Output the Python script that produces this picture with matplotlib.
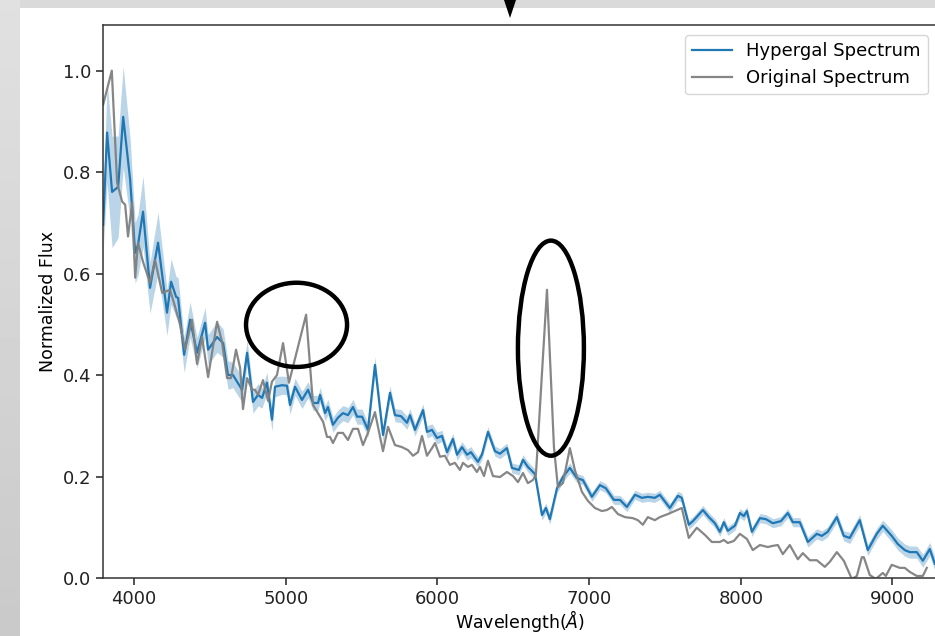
"""Hypergal vs original spectrum, with the emission lines the model misses circled."""
import matplotlib
matplotlib.use("Agg")
import matplotlib.pyplot as plt
import numpy as np
from matplotlib.patches import Ellipse, Polygon, Rectangle

# Hypergal reconstruction: wavelength (A), normalized flux, 1-sigma spread
hyp_wave = [3796, 3822, 3855, 3895, 3928, 3974, 4007, 4026, 4059, 4105,
            4158, 4217, 4244, 4277, 4290, 4330, 4369, 4415, 4468, 4488,
            4547, 4587, 4619, 4652, 4712, 4745, 4784, 4817, 4844, 4876,
            4909, 4929, 4975, 5008, 5028, 5061, 5107, 5147, 5180, 5213,
            5226, 5259, 5278, 5311, 5344, 5377, 5410, 5443, 5470, 5503,
            5542, 5588, 5641, 5687, 5720, 5760, 5799, 5819, 5852, 5905,
            5931, 5964, 5997, 6030, 6063, 6102, 6129, 6162, 6195, 6221,
            6247, 6267, 6293, 6333, 6379, 6412, 6458, 6491, 6537, 6564,
            6596, 6643, 6689, 6715, 6741, 6788, 6827, 6873, 6919, 6959,
            7018, 7071, 7110, 7163, 7203, 7249, 7302, 7348, 7387, 7433,
            7466, 7532, 7585, 7611, 7657, 7684, 7750, 7789, 7829, 7862,
            7888, 7914, 7961, 7994, 8020, 8040, 8073, 8126, 8165, 8211,
            8264, 8310, 8343, 8389, 8442, 8501, 8534, 8573, 8633, 8679,
            8718, 8784, 8837, 8896, 8936, 8995, 9035, 9081, 9114, 9160,
            9200, 9246, 9279]
hyp_flux = [0.696, 0.878, 0.761, 0.771, 0.909, 0.785, 0.641, 0.657, 0.722, 0.572,
            0.661, 0.523, 0.584, 0.554, 0.552, 0.440, 0.509, 0.444, 0.503, 0.450,
            0.475, 0.463, 0.400, 0.400, 0.371, 0.444, 0.347, 0.361, 0.355, 0.385,
            0.312, 0.377, 0.380, 0.379, 0.341, 0.377, 0.351, 0.371, 0.345, 0.345,
            0.361, 0.325, 0.337, 0.302, 0.316, 0.325, 0.321, 0.337, 0.318, 0.318,
            0.292, 0.420, 0.282, 0.365, 0.321, 0.319, 0.306, 0.321, 0.292, 0.331,
            0.288, 0.292, 0.276, 0.280, 0.248, 0.274, 0.243, 0.258, 0.243, 0.248,
            0.237, 0.229, 0.243, 0.288, 0.250, 0.245, 0.256, 0.217, 0.213, 0.233,
            0.219, 0.205, 0.124, 0.138, 0.116, 0.177, 0.199, 0.217, 0.197, 0.193,
            0.160, 0.183, 0.177, 0.154, 0.154, 0.140, 0.164, 0.158, 0.160, 0.158,
            0.164, 0.138, 0.162, 0.158, 0.105, 0.112, 0.134, 0.120, 0.108, 0.091,
            0.110, 0.093, 0.103, 0.128, 0.122, 0.132, 0.091, 0.118, 0.116, 0.108,
            0.112, 0.128, 0.110, 0.110, 0.071, 0.087, 0.083, 0.091, 0.120, 0.083,
            0.079, 0.114, 0.055, 0.087, 0.103, 0.083, 0.067, 0.055, 0.051, 0.051,
            0.034, 0.057, 0.028]
hyp_err = [0.050, 0.100, 0.110, 0.100, 0.100, 0.080, 0.060, 0.060, 0.070, 0.050,
           0.060, 0.045, 0.045, 0.040, 0.040, 0.035, 0.035, 0.030, 0.030, 0.030,
           0.030, 0.028, 0.028, 0.025, 0.025, 0.025, 0.022, 0.022, 0.020, 0.020,
           0.022, 0.020, 0.018, 0.018, 0.018, 0.017, 0.017, 0.016, 0.015, 0.015,
           0.015, 0.015, 0.015, 0.015, 0.015, 0.015, 0.015, 0.015, 0.015, 0.015,
           0.014, 0.016, 0.014, 0.014, 0.013, 0.013, 0.013, 0.013, 0.012, 0.012,
           0.012, 0.012, 0.012, 0.011, 0.011, 0.011, 0.011, 0.011, 0.011, 0.011,
           0.010, 0.010, 0.010, 0.010, 0.010, 0.010, 0.010, 0.010, 0.010, 0.010,
           0.010, 0.010, 0.010, 0.010, 0.010, 0.010, 0.010, 0.010, 0.009, 0.009,
           0.009, 0.009, 0.009, 0.009, 0.009, 0.009, 0.009, 0.009, 0.009, 0.009,
           0.009, 0.009, 0.009, 0.009, 0.009, 0.009, 0.009, 0.009, 0.009, 0.009,
           0.009, 0.009, 0.009, 0.009, 0.009, 0.009, 0.009, 0.009, 0.009, 0.009,
           0.009, 0.009, 0.009, 0.009, 0.010, 0.010, 0.010, 0.010, 0.010, 0.010,
           0.011, 0.011, 0.011, 0.011, 0.011, 0.012, 0.012, 0.012, 0.012, 0.012,
           0.013, 0.013, 0.013]

# Original (observed) spectrum
orig_wave = [3796, 3853, 3888, 3921, 3941, 3960, 3987, 4007, 4026, 4059,
             4105, 4138, 4185, 4237, 4270, 4303, 4336, 4382, 4415, 4448,
             4488, 4547, 4580, 4613, 4639, 4672, 4699, 4718, 4745, 4778,
             4797, 4817, 4850, 4883, 4909, 4942, 4982, 5021, 5134, 5180,
             5226, 5246, 5272, 5292, 5311, 5344, 5377, 5410, 5443, 5476,
             5509, 5542, 5588, 5641, 5674, 5720, 5766, 5806, 5839, 5872,
             5898, 5931, 5964, 5984, 6017, 6049, 6082, 6115, 6148, 6168,
             6201, 6227, 6260, 6280, 6307, 6333, 6366, 6412, 6458, 6498,
             6531, 6564, 6596, 6629, 6649, 6722, 6768, 6794, 6827, 6873,
             6906, 6952, 6992, 7038, 7084, 7117, 7150, 7190, 7236, 7288,
             7321, 7354, 7387, 7433, 7466, 7519, 7565, 7611, 7657, 7710,
             7763, 7809, 7862, 7888, 7914, 7954, 7994, 8040, 8079, 8126,
             8178, 8204, 8244, 8277, 8323, 8376, 8409, 8455, 8501, 8554,
             8587, 8633, 8679, 8732, 8765, 8798, 8811, 8850, 8890, 8936,
             8956, 8995, 9048, 9081, 9114, 9160, 9200, 9226]
orig_flux = [0.933, 1.000, 0.779, 0.742, 0.736, 0.673, 0.740, 0.592, 0.661, 0.623,
             0.582, 0.627, 0.562, 0.568, 0.535, 0.499, 0.450, 0.509, 0.422, 0.475,
             0.396, 0.505, 0.465, 0.394, 0.394, 0.450, 0.414, 0.333, 0.394, 0.371,
             0.371, 0.361, 0.390, 0.349, 0.387, 0.400, 0.463, 0.385, 0.519, 0.341,
             0.318, 0.308, 0.278, 0.278, 0.266, 0.286, 0.286, 0.272, 0.294, 0.294,
             0.262, 0.286, 0.327, 0.250, 0.298, 0.262, 0.258, 0.252, 0.241, 0.248,
             0.280, 0.241, 0.256, 0.266, 0.239, 0.241, 0.223, 0.227, 0.213, 0.227,
             0.219, 0.223, 0.209, 0.219, 0.201, 0.231, 0.201, 0.199, 0.209, 0.201,
             0.189, 0.207, 0.187, 0.193, 0.203, 0.568, 0.258, 0.179, 0.187, 0.256,
             0.213, 0.170, 0.152, 0.138, 0.132, 0.134, 0.140, 0.126, 0.120, 0.118,
             0.114, 0.105, 0.120, 0.114, 0.120, 0.126, 0.132, 0.138, 0.079, 0.099,
             0.085, 0.071, 0.071, 0.075, 0.069, 0.073, 0.087, 0.077, 0.055, 0.065,
             0.061, 0.063, 0.065, 0.047, 0.065, 0.037, 0.049, 0.035, 0.035, 0.022,
             0.032, 0.051, 0.034, -0.002, 0.004, 0.041, 0.041, 0.006, -0.002, 0.010,
             0.004, 0.026, 0.020, 0.020, 0.012, 0.004, 0.004, 0.020]

W, H = 935, 636
fig = plt.figure(figsize=(W / 100, H / 100), dpi=100, facecolor="#dadada")

# slide-style frame: grey gradient strip on the left, white page behind the plot
strip = fig.add_axes([0, 0, 20 / W, 1], zorder=-2)
strip.imshow(np.linspace(0.88, 0.79, 64)[:, None], cmap="gray", vmin=0, vmax=1,
             aspect="auto", extent=[0, 1, 0, 1])
strip.axis("off")
fig.patches.append(Rectangle((20 / W, 0), 1 - 20 / W, (H - 8) / H,
                             transform=fig.transFigure, facecolor="white",
                             edgecolor="none", zorder=-1))
# tip of the arrow coming down from above
fig.patches.append(Polygon([(504 / W, 1), (516 / W, 1), (510 / W, 1 - 18 / H)],
                           closed=True, transform=fig.transFigure,
                           facecolor="black", edgecolor="none", zorder=5))

ax = fig.add_axes([103 / W, 58 / H, 835 / W, 553 / H])
hyp_wave, hyp_flux, hyp_err = map(np.asarray, (hyp_wave, hyp_flux, hyp_err))
ax.fill_between(hyp_wave, hyp_flux - hyp_err, hyp_flux + hyp_err,
                color="C0", alpha=0.3, linewidth=0)
ax.plot(hyp_wave, hyp_flux, color="C0", lw=1.6, label="Hypergal Spectrum")
ax.plot(orig_wave, orig_flux, color="gray", lw=1.6, alpha=0.95,
        label="Original Spectrum")

# circle the lines that the model does not reproduce
for (cx, cy, ew, eh) in [(5071, 0.499, 666, 0.166), (6748, 0.453, 435, 0.424)]:
    ax.add_patch(Ellipse((cx, cy), ew, eh, fill=False, edgecolor="black",
                         lw=3.2, zorder=6))

ax.set_xlim(3795, 9300)
ax.set_ylim(0, 1.09)
ax.set_xticks([4000, 5000, 6000, 7000, 8000, 9000])
ax.set_yticks([0.0, 0.2, 0.4, 0.6, 0.8, 1.0])
ax.tick_params(labelsize=13, length=5, width=1.1, colors="#222222")
for sp in ax.spines.values():
    sp.set_linewidth(1.1)
    sp.set_color("#333333")
ax.set_xlabel(r"Wavelength($\AA$)", fontsize=12.5, labelpad=0)
ax.set_ylabel("Normalized Flux", fontsize=12.5, labelpad=4)
ax.legend(loc="upper right", fontsize=13, handlelength=2.2, borderaxespad=0.55)

fig.savefig("out.png", dpi=100, facecolor=fig.get_facecolor())
